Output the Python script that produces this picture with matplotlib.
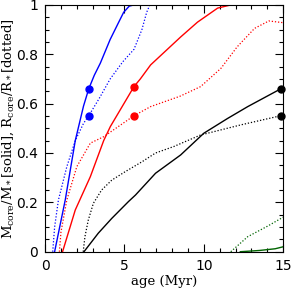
import numpy as np
import matplotlib
matplotlib.use("Agg")
import matplotlib.pyplot as plt
from matplotlib.ticker import MultipleLocator

plt.rcParams['mathtext.fontset'] = 'dejavuserif'

# blue model
blue_age_m = [0.6, 1.27, 1.9, 2.42, 2.75, 3.1, 3.48, 4.1, 4.6, 4.95, 5.3, 5.6]
blue_mass = [0, 0.21, 0.45, 0.59, 0.66, 0.715, 0.764, 0.86, 0.925, 0.97, 0.995, 1.0]
blue_age_r = [0.48, 0.6, 0.84, 1.37, 1.9, 2.42, 2.75, 3.4, 4.1, 4.9, 5.6, 6.1, 6.4, 6.6, 7.1]
blue_rad = [0, 0.1, 0.21, 0.345, 0.45, 0.52, 0.551, 0.62, 0.70, 0.77, 0.82, 0.9, 0.97, 1.0, 1.0]

# red model
red_age_m = [1.1, 1.9, 2.85, 3.69, 4.11, 5.6, 6.0, 6.65, 8.54, 9.6, 10.87, 11.7, 12.5]
red_mass = [0, 0.169, 0.304, 0.45, 0.507, 0.669, 0.70, 0.757, 0.87, 0.93, 0.987, 1.0, 1.0]
red_age_r = [0.9, 1.0, 1.37, 2.0, 2.85, 3.69, 5.6, 6.65, 8.5, 9.8, 11.08, 12.1, 13.2, 14.1, 15.0]
red_rad = [0, 0.08, 0.21, 0.345, 0.44, 0.466, 0.551, 0.588, 0.63, 0.669, 0.743, 0.83, 0.905, 0.935, 0.928]

# black model
blk_age_m = [2.45, 3.35, 4.2, 5.25, 5.7, 6.96, 8.54, 10.0, 11.5, 12.77, 14.85]
blk_mass = [0, 0.075, 0.135, 0.203, 0.23, 0.318, 0.392, 0.48, 0.54, 0.588, 0.66]
blk_age_r = [2.4, 2.51, 2.72, 3.04, 3.56, 4.2, 5.04, 6.12, 6.96, 8.1, 9.8, 12.34, 14.85]
blk_rad = [0, 0.061, 0.128, 0.196, 0.25, 0.29, 0.324, 0.365, 0.40, 0.426, 0.473, 0.514, 0.551]

# green model
grn_age_m = [12.3, 13.5, 14.5, 15.0]
grn_mass = [0, 0.005, 0.012, 0.02]
grn_age_r = [11.7, 12.77, 14.03, 15.0]
grn_rad = [0, 0.061, 0.104, 0.14]

# dots
dot_age = [2.75, 2.75, 5.6, 5.6, 14.85, 14.85]
dot_val = [0.66, 0.551, 0.669, 0.551, 0.66, 0.551]
dot_col = ['#0000ff', '#0000ff', '#ff0000', '#ff0000', 'black', 'black']

fig = plt.figure(figsize=(2.91, 2.89), dpi=100)
ax = fig.add_axes([0.155, 0.129, 0.818, 0.854])

dotted = (0, (1, 1.5))
ax.plot(blue_age_m, blue_mass, color='#0000ff', lw=1.0)
ax.plot(blue_age_r, blue_rad, color='#0000ff', lw=0.9, ls=dotted)
ax.plot(red_age_m, red_mass, color='#ff0000', lw=1.0)
ax.plot(red_age_r, red_rad, color='#ff0000', lw=0.9, ls=dotted)
ax.plot(blk_age_m, blk_mass, color='black', lw=1.0)
ax.plot(blk_age_r, blk_rad, color='black', lw=0.9, ls=dotted)
ax.plot(grn_age_m, grn_mass, color='#006400', lw=1.0)
ax.plot(grn_age_r, grn_rad, color='#006400', lw=0.9, ls=dotted)

for a, v, c in zip(dot_age, dot_val, dot_col):
    ax.plot(a, v, 'o', color=c, ms=5, clip_on=False, zorder=5)

ax.set_xlim(0, 15)
ax.set_ylim(0, 1)
ax.xaxis.set_major_locator(MultipleLocator(5))
ax.xaxis.set_minor_locator(MultipleLocator(1))
ax.yaxis.set_major_locator(MultipleLocator(0.2))
ax.yaxis.set_minor_locator(MultipleLocator(0.05))
ax.xaxis.set_major_formatter(plt.FuncFormatter(lambda v, p: '%g' % v))
ax.yaxis.set_major_formatter(plt.FuncFormatter(lambda v, p: '%g' % v))
ax.tick_params(which='both', direction='in', top=True, right=True, labelsize=10, pad=5)
ax.tick_params(which='major', length=6, width=0.8)
ax.tick_params(which='minor', length=3, width=0.8)

ax.set_xlabel('age (Myr)', family='DejaVu Serif', fontsize=9.5, labelpad=2)
ax.set_ylabel(r'M$_{\rm core}$/M$_*$[solid], R$_{\rm core}$/R$_*$[dotted]',
              family='DejaVu Serif', fontsize=9.5)
ax.yaxis.set_label_coords(-0.122, 0.5)

fig.savefig('out.png', dpi=100)
